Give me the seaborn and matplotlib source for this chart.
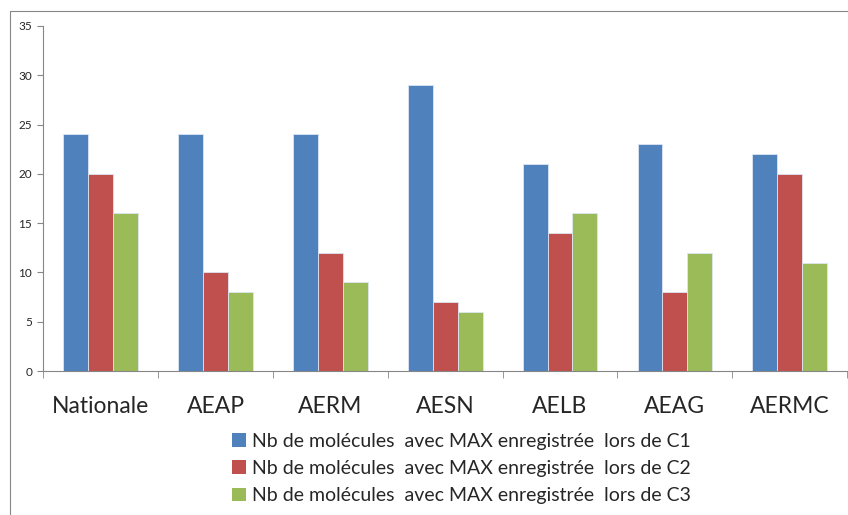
import numpy as np
import pandas as pd
import seaborn as sns
import matplotlib.pyplot as plt
from matplotlib.lines import Line2D
from matplotlib.patches import Patch

regions = ["Nationale", "AEAP", "AERM", "AESN", "AELB", "AEAG", "AERMC"]
c1 = [24, 24, 24, 29, 21, 23, 22]
c2 = [20, 10, 12, 7, 14, 8, 20]
c3 = [16, 8, 9, 6, 16, 12, 11]
series = ["Nb de molécules  avec MAX enregistrée  lors de C1",
          "Nb de molécules  avec MAX enregistrée  lors de C2",
          "Nb de molécules  avec MAX enregistrée  lors de C3"]
colors = ["#4F81BD", "#C0504D", "#9BBB59"]

df = pd.DataFrame({
    "region": regions * 3,
    "serie": [series[0]] * 7 + [series[1]] * 7 + [series[2]] * 7,
    "value": c1 + c2 + c3,
})

sns.set_style("white")
plt.rcParams['font.family'] = ['Lato', 'DejaVu Sans']

fig = plt.figure(figsize=(8.48, 5.15), dpi=100)
ax = fig.add_axes([0.051, 0.2796, 0.948, 0.67])

sns.barplot(data=df, x="region", y="value", hue="serie", palette=colors, saturation=1,
            width=0.65, ax=ax, edgecolor="#dce6f2", linewidth=0.6, legend=False)

ax.set_ylim(0, 35)
ax.set_xlim(-0.5, 6.5)
ax.set_yticks(range(0, 36, 5))
ax.set_xlabel("")
ax.set_ylabel("")
ax.tick_params(axis="y", labelsize=8.5, length=4, direction="out", color="#868686", left=True, pad=4)
ax.tick_params(axis="x", labelsize=16.5, length=0, pad=18)
ax.set_xticks(np.arange(-0.5, 7, 1), minor=True)
ax.tick_params(axis="x", which="minor", length=5, direction="out", color="#868686", bottom=True)
for s in ["top", "right"]:
    ax.spines[s].set_visible(False)
for s in ["left", "bottom"]:
    ax.spines[s].set_color("#868686")
    ax.spines[s].set_linewidth(0.8)

# frame of the chart area
fig.add_artist(Line2D([10 / 848, 10 / 848], [0, 1 - 11 / 515], transform=fig.transFigure, color="#868686", lw=0.8))
fig.add_artist(Line2D([10 / 848, 1], [1 - 11 / 515, 1 - 11 / 515], transform=fig.transFigure, color="#868686", lw=0.8))

handles = [Patch(facecolor=c, edgecolor="none") for c in colors]
fig.legend(handles, series, loc="upper center", bbox_to_anchor=(0.544, 0.160), ncol=1,
           frameon=False, fontsize=14, handlelength=0.7, handleheight=0.7, handletextpad=0.3,
           labelspacing=0.53, borderaxespad=0, borderpad=0)

fig.savefig("out.png", dpi=100)
